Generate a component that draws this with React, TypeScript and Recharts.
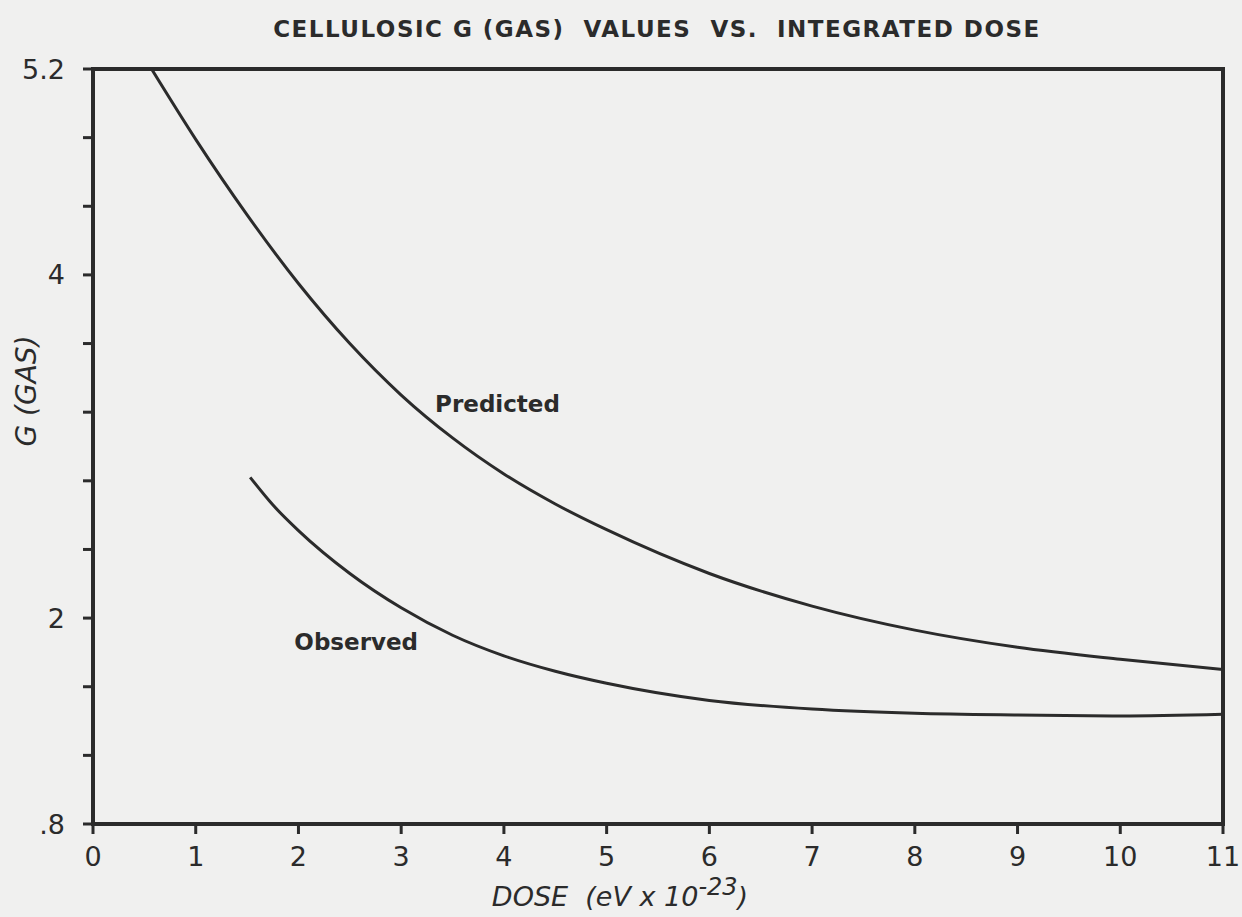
import {
  LineChart,
  Line,
  XAxis,
  YAxis,
  ReferenceArea,
  ReferenceDot,
} from "recharts";

// -------------------------
// DATA
// -------------------------
const predictedDose = [0.57, 1.0, 1.5, 2.0, 2.5, 3.0, 3.5, 4.0, 4.5, 5.0, 6.0, 7.0, 8.0, 9.0, 10.0, 11.0];
const predictedG = [5.2, 4.79, 4.35, 3.95, 3.6, 3.3, 3.05, 2.84, 2.665, 2.515, 2.26, 2.07, 1.93, 1.83, 1.76, 1.7];

const observedDose = [1.53, 1.75, 2.0, 2.5, 3.0, 3.5, 4.0, 4.5, 5.0, 6.0, 7.0, 8.0, 9.0, 10.0, 11.0];
const observedG = [2.82, 2.66, 2.51, 2.26, 2.06, 1.9, 1.78, 1.69, 1.62, 1.52, 1.47, 1.445, 1.435, 1.43, 1.44];

const xTicks = [0, 1, 2, 3, 4, 5, 6, 7, 8, 9, 10, 11];
const yTicks = [0.8, 1.2, 1.6, 2.0, 2.4, 2.8, 3.2, 3.6, 4.0, 4.4, 4.8, 5.2];
const yTickLabels: Record<string, string> = { "5.2": "5.2", "4": "4", "2": "2", "0.8": ".8" };

const predicted = predictedDose.map((x, i) => ({ x, g: predictedG[i] }));
const observed = observedDose.map((x, i) => ({ x, g: observedG[i] }));

// -------------------------
// THEME
// -------------------------
const INK = "#2b2b2b";
const PAPER = "#f0f0ef";
const FONT = "'DejaVu Sans', sans-serif";

const curveLabel = (text: string) => (props: any) => {
  const vb = props.viewBox || {};
  return (
    <text
      x={vb.x}
      y={vb.y}
      fill={INK}
      fontFamily={FONT}
      fontSize={23}
      fontWeight={600}
      dominantBaseline="middle"
    >
      {text}
    </text>
  );
};

export default function App() {
  return (
    <div
      style={{
        position: "absolute",
        left: 0,
        top: 0,
        width: 1242,
        height: 917,
        background: PAPER,
        fontFamily: FONT,
      }}
    >
      {/* TITLE */}
      <div
        style={{
          position: "absolute",
          top: 16,
          left: 0,
          width: 1314,
          textAlign: "center",
          fontSize: 23,
          letterSpacing: 1.5,
          color: INK,
          fontWeight: 600,
        }}
      >
        CELLULOSIC G (GAS)&nbsp; VALUES&nbsp; VS.&nbsp; INTEGRATED DOSE
      </div>

      <LineChart
        width={1242}
        height={917}
        margin={{ top: 69, right: 19, bottom: 33, left: 33 }}
        style={{ position: "absolute", left: 0, top: 0 }}
      >
        <XAxis
          type="number"
          dataKey="x"
          domain={[0, 11]}
          ticks={xTicks}
          interval={0}
          height={60}
          tickSize={10}
          tickMargin={13}
          axisLine={{ stroke: INK, strokeWidth: 4 }}
          tickLine={{ stroke: INK, strokeWidth: 3 }}
          tick={{ fill: INK, fontSize: 27, fontFamily: FONT }}
          allowDataOverflow
          label={() => (
            <text
              x={620}
              y={906}
              textAnchor="middle"
              fill={INK}
              fontFamily={FONT}
              fontSize={27}
              fontStyle="italic"
            >
              DOSE&nbsp; (eV x 10
              <tspan dy={-11} fontSize={24}>-23</tspan>
              <tspan dy={11}>)</tspan>
            </text>
          )}
        />
        <YAxis
          type="number"
          dataKey="g"
          domain={[0.8, 5.2]}
          ticks={yTicks}
          interval={0}
          width={60}
          tickSize={10}
          tickMargin={18}
          axisLine={{ stroke: INK, strokeWidth: 4 }}
          tickLine={{ stroke: INK, strokeWidth: 3 }}
          tick={{ fill: INK, fontSize: 27, fontFamily: FONT }}
          tickFormatter={(v: number) => yTickLabels[String(Number(v.toFixed(1)))] ?? ""}
          allowDataOverflow
          label={{
            value: "G  (GAS)",
            angle: -90,
            position: "insideLeft",
            dx: -12,
            fill: INK,
            fontSize: 28,
            fontStyle: "italic",
            fontFamily: FONT,
          }}
        />

        {/* plot frame */}
        <ReferenceArea
          x1={0}
          x2={11}
          y1={0.8}
          y2={5.2}
          fill="none"
          stroke={INK}
          strokeWidth={4}
          ifOverflow="visible"
        />

        <Line
          data={predicted}
          dataKey="g"
          type="monotone"
          stroke={INK}
          strokeWidth={3}
          dot={false}
          isAnimationActive={false}
        />
        <Line
          data={observed}
          dataKey="g"
          type="monotone"
          stroke={INK}
          strokeWidth={3}
          dot={false}
          isAnimationActive={false}
        />

        <ReferenceDot x={3.33} y={3.24} r={0} fill="none" stroke="none" label={curveLabel("Predicted")} />
        <ReferenceDot x={1.96} y={1.85} r={0} fill="none" stroke="none" label={curveLabel("Observed")} />
      </LineChart>
    </div>
  );
}
